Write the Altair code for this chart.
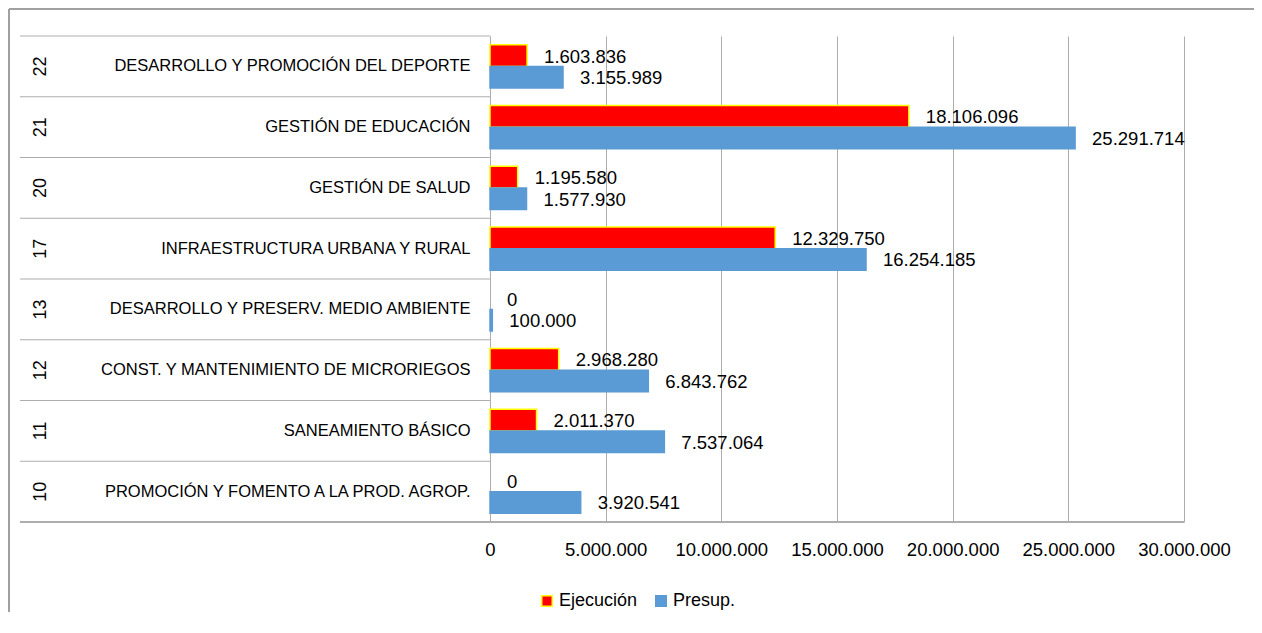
import altair as alt
import pandas as pd

codes = ["22", "21", "20", "17", "13", "12", "11", "10"]
names = [
    "DESARROLLO Y PROMOCIÓN DEL DEPORTE",
    "GESTIÓN DE EDUCACIÓN",
    "GESTIÓN DE SALUD",
    "INFRAESTRUCTURA URBANA Y RURAL",
    "DESARROLLO Y PRESERV. MEDIO AMBIENTE",
    "CONST. Y MANTENIMIENTO DE MICRORIEGOS",
    "SANEAMIENTO BÁSICO",
    "PROMOCIÓN Y FOMENTO A LA PROD. AGROP.",
]
ejecucion = [1603836, 18106096, 1195580, 12329750, 0, 2968280, 2011370, 0]
presup = [3155989, 25291714, 1577930, 16254185, 100000, 6843762, 7537064, 3920541]
series = ["Ejecución", "Presup."]
x_ticks = [0, 5000000, 10000000, 15000000, 20000000, 25000000, 30000000]


def fmt(v):
    return f"{v:,}".replace(",", ".")


rows = []
for c, n, e, p in zip(codes, names, ejecucion, presup):
    rows.append({"code": c, "name": n, "serie": series[0], "value": e, "label": fmt(e)})
    rows.append({"code": c, "name": n, "serie": series[1], "value": p, "label": fmt(p)})
df = pd.DataFrame(rows)
cats = pd.DataFrame({"code": codes, "name": names})

FONT = "Liberation Sans"
GRID = "#ADADAD"
W, H = 694, 486

y_enc = alt.Y(
    "name:N",
    sort=names,
    scale=alt.Scale(paddingInner=0, paddingOuter=0),
    axis=alt.Axis(
        title=None, ticks=False, domain=True, domainColor=GRID, domainWidth=1,
        labelPadding=20, labelFontSize=16.5, labelFont=FONT, labelColor="#000000",
        labelLimit=0,
    ),
)
yoff = alt.YOffset("serie:N", sort=series, scale=alt.Scale(paddingInner=0, paddingOuter=0.41))

leg = alt.Legend(
    title=None, orient="none", legendX=48, legendY=556, direction="horizontal",
    symbolType="square", symbolSize=110, symbolStrokeWidth=1.5,
    labelFontSize=18, labelFont=FONT, labelColor="#000000",
    columnPadding=14, labelOffset=3,
)

bars = alt.Chart(df).mark_bar().encode(
    y=y_enc,
    yOffset=yoff,
    x=alt.X(
        "value:Q",
        scale=alt.Scale(domain=[0, 30000000], nice=False),
        axis=alt.Axis(
            title=None, values=x_ticks, grid=True, gridColor=GRID, gridWidth=1,
            ticks=False, domain=False, labelPadding=18, labelFontSize=18.5,
            labelFont=FONT, labelColor="#000000", labelOverlap=False, labelFlush=False,
            labelExpr="datum.value == 0 ? '0' : format(datum.value / 1000000, 'd') + '.000.000'",
        ),
    ),
    color=alt.Color(
        "serie:N",
        scale=alt.Scale(domain=series, range=["#FF0000", "#5B9BD5"]),
        legend=leg,
    ),
    stroke=alt.Stroke(
        "serie:N",
        scale=alt.Scale(domain=series, range=["#FFFF00", "#5B9BD5"]),
        legend=leg,
    ),
    strokeWidth=alt.condition("datum.value == 0", alt.value(0), alt.value(1.5)),
)

labels = alt.Chart(df).mark_text(
    align="left", baseline="middle", dx=17, dy=1, fontSize=18.5, font=FONT, color="#000000"
).encode(
    y=alt.Y("name:N", sort=names),
    yOffset=yoff,
    x=alt.X("value:Q"),
    text="label:N",
)

seps = alt.Chart(cats).mark_rule(color=GRID, strokeWidth=1).encode(
    y=alt.Y("name:N", sort=names, bandPosition=0),
    x=alt.value(-470),
    x2=alt.value(0),
)

code_text = alt.Chart(cats).mark_text(
    angle=270, align="center", baseline="middle", fontSize=18, font=FONT, color="#000000"
).encode(
    y=alt.Y("name:N", sort=names),
    x=alt.value(-449),
    text="code:N",
)

bottom_line = alt.Chart(cats).mark_rule(color=GRID, strokeWidth=1).encode(
    y=alt.value(H), x=alt.value(-470), x2=alt.value(W)
)

frame_top = alt.Chart(cats).mark_rule(color="#A0A0A0", strokeWidth=2).encode(
    y=alt.value(-27), x=alt.value(-481), x2=alt.value(W + 70)
)
frame_left = alt.Chart(cats).mark_rule(color="#A0A0A0", strokeWidth=2).encode(
    x=alt.value(-481), y=alt.value(-27), y2=alt.value(H + 90)
)

chart = alt.layer(
    frame_top, frame_left, seps, bottom_line, bars, labels, code_text
).properties(
    width=W,
    height=H,
    padding={"left": 482, "top": 28, "right": 70, "bottom": 90},
    autosize=alt.AutoSizeParams(type="none"),
).configure_view(stroke=None)

chart.save("out.html", embed_options={"renderer": "svg", "actions": False})
